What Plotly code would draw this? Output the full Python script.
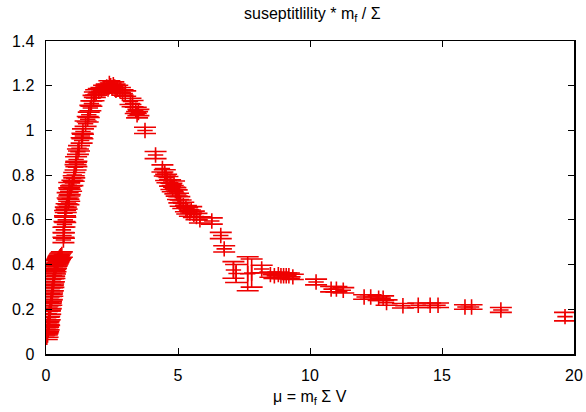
import plotly.graph_objects as go

# mu = m_f Sigma V
mu = [
    # low-mu cluster
    0.03, 0.06, 0.05, 0.08, 0.10, 0.07, 0.12, 0.10, 0.14, 0.12, 0.16, 0.15, 0.18, 0.20,
    0.19, 0.22, 0.24, 0.23, 0.26, 0.28, 0.27, 0.30, 0.32, 0.31, 0.34, 0.36, 0.35, 0.38,
    0.40, 0.42, 0.44, 0.46, 0.48, 0.50, 0.53, 0.56, 0.60,
    # rising branch
    0.66, 0.68, 0.66, 0.70, 0.73, 0.72, 0.75, 0.78, 0.85, 0.88, 0.82, 0.90, 0.95, 0.88,
    1.00, 1.05, 1.07, 1.12, 1.15, 1.14, 1.21, 1.25, 1.35, 1.38, 1.40, 1.50, 1.58, 1.62,
    1.68, 1.72, 1.80, 1.85, 1.90,
    # peak
    2.00, 2.10, 2.20, 2.30, 2.35, 2.40, 2.45, 2.50, 2.55, 2.60, 2.65, 2.70, 2.80, 2.90, 3.00,
    # after peak
    3.20, 3.28, 3.40, 3.45, 3.50, 3.75,
    # descending
    4.15, 4.41, 4.50, 4.55, 4.60, 4.70, 4.75, 4.80, 4.85, 4.90, 4.95, 5.00, 5.05, 5.10,
    5.20, 5.30, 5.35, 5.45, 5.50, 5.60, 5.70, 5.83, 6.28, 6.62, 6.75,
    # large-error points
    7.10, 7.20, 7.64, 7.79, 8.17,
    # tail
    8.50, 8.65, 8.80, 8.90, 9.00, 9.10, 9.20, 9.35, 10.23, 10.80, 11.00, 11.26,
    12.05, 12.30, 12.60, 12.77, 12.90, 13.52, 14.10, 14.55, 14.85, 15.87, 16.12,
    17.23, 19.66,
]

# susceptibility * m_f / Sigma
chi = [
    0.075, 0.085, 0.100, 0.110, 0.120, 0.130, 0.140, 0.155, 0.165, 0.180, 0.190, 0.205, 0.215, 0.230,
    0.245, 0.255, 0.270, 0.285, 0.295, 0.310, 0.325, 0.335, 0.350, 0.360, 0.370, 0.380, 0.390, 0.395,
    0.405, 0.410, 0.415, 0.420, 0.425, 0.430, 0.435, 0.440, 0.445,
    0.510, 0.530, 0.555, 0.580, 0.600, 0.630, 0.645, 0.660, 0.680, 0.695, 0.710, 0.725, 0.740, 0.755,
    0.765, 0.785, 0.800, 0.835, 0.850, 0.870, 0.905, 0.920, 0.955, 0.975, 0.995, 1.030, 1.050, 1.070,
    1.100, 1.120, 1.145, 1.160, 1.170,
    1.175, 1.180, 1.190, 1.195, 1.185, 1.210, 1.200, 1.190, 1.205, 1.195, 1.180, 1.190, 1.180, 1.170, 1.165,
    1.130, 1.120, 1.090, 1.070, 1.080, 1.000,
    0.890, 0.830, 0.810, 0.790, 0.780, 0.765, 0.750, 0.740, 0.760, 0.730, 0.720, 0.705, 0.690, 0.675,
    0.665, 0.650, 0.640, 0.630, 0.645, 0.625, 0.615, 0.600, 0.595, 0.530, 0.470,
    0.376, 0.360, 0.359, 0.362, 0.380,
    0.355, 0.350, 0.355, 0.350, 0.350, 0.350, 0.350, 0.345, 0.322, 0.290, 0.290, 0.285,
    0.255, 0.255, 0.250, 0.250, 0.230, 0.216, 0.218, 0.218, 0.218, 0.210, 0.210,
    0.197, 0.167,
]

err = [
    0.010, 0.010, 0.010, 0.010, 0.012, 0.010, 0.012, 0.010, 0.012, 0.012, 0.012, 0.012, 0.012, 0.012,
    0.012, 0.012, 0.012, 0.012, 0.012, 0.012, 0.012, 0.012, 0.012, 0.012, 0.012, 0.012, 0.012, 0.012,
    0.012, 0.012, 0.012, 0.012, 0.012, 0.012, 0.012, 0.012, 0.012,
    0.012, 0.012, 0.012, 0.012, 0.012, 0.012, 0.012, 0.012, 0.012, 0.012, 0.012, 0.012, 0.012, 0.012,
    0.012, 0.012, 0.012, 0.012, 0.012, 0.012, 0.012, 0.012, 0.012, 0.012, 0.012, 0.012, 0.012, 0.012,
    0.012, 0.012, 0.012, 0.012, 0.012,
    0.012, 0.012, 0.012, 0.012, 0.012, 0.012, 0.012, 0.012, 0.012, 0.012, 0.012, 0.012, 0.012, 0.012, 0.012,
    0.014, 0.014, 0.014, 0.014, 0.014, 0.014,
    0.016, 0.016, 0.014, 0.014, 0.014, 0.014, 0.014, 0.014, 0.014, 0.014, 0.014, 0.014, 0.014, 0.014,
    0.014, 0.014, 0.014, 0.014, 0.014, 0.014, 0.014, 0.014, 0.014, 0.014, 0.014,
    0.037, 0.040, 0.076, 0.063, 0.017,
    0.012, 0.012, 0.012, 0.012, 0.012, 0.012, 0.012, 0.012, 0.013, 0.012, 0.012, 0.012,
    0.010, 0.010, 0.010, 0.010, 0.012, 0.010, 0.010, 0.010, 0.010, 0.010, 0.010,
    0.011, 0.019,
]

x_ticks = [0, 5, 10, 15, 20]
y_ticks = [0, 0.2, 0.4, 0.6, 0.8, 1.0, 1.2, 1.4]
y_tick_text = ["0", "0.2", "0.4", "0.6", "0.8", "1", "1.2", "1.4"]

RED = "#ee0000"
FONT = "Liberation Sans, Arial, sans-serif"
FS = 16

fig = go.Figure()
fig.add_trace(go.Scatter(
    x=mu, y=chi, mode="markers",
    marker=dict(symbol="cross-thin", size=11, color=RED,
                line=dict(color=RED, width=1.6)),
    error_y=dict(type="data", array=err, visible=True, color=RED,
                 thickness=1.6, width=11),
    showlegend=False, hoverinfo="skip",
))

axis_common = dict(
    showgrid=False, zeroline=False, showline=True, linecolor="#000",
    linewidth=1.5, mirror="ticks", ticks="inside", ticklen=6,
    tickwidth=1, tickcolor="#000", automargin=False,
    tickfont=dict(family=FONT, size=FS, color="#000"),
)

fig.update_layout(
    width=586, height=412,
    margin=dict(l=46, r=12, t=41, b=58, autoexpand=False),
    paper_bgcolor="white", plot_bgcolor="white",
    font=dict(family=FONT, size=FS, color="#000"),
    title=dict(text="suseptitlility * m<sub>f</sub> / Σ", x=0.533, xanchor="center",
               y=1 - 13 / 412, yanchor="middle", yref="container",
               font=dict(family=FONT, size=FS, color="#000")),
    xaxis=dict(range=[0, 20], tickvals=x_ticks, ticklabelstandoff=6, **axis_common),
    yaxis=dict(range=[0, 1.4], tickvals=y_ticks, ticktext=y_tick_text,
               ticklabelstandoff=7, **axis_common),
    annotations=[dict(text="μ = m<sub>f</sub> Σ V", xref="paper", yref="paper",
                      x=0.5, y=0, xanchor="center", yanchor="middle", yshift=-43,
                      showarrow=False, font=dict(family=FONT, size=FS, color="#000"))],
)

fig.write_html("out.html", config={"displayModeBar": False, "staticPlot": True})

# remove the browser's default page margin so the figure sits at (0, 0)
with open("out.html", "r", encoding="utf-8") as f:
    html = f.read()
html = html.replace("<body>", '<body style="margin:0;padding:0;overflow:hidden">', 1)
with open("out.html", "w", encoding="utf-8") as f:
    f.write(html)
